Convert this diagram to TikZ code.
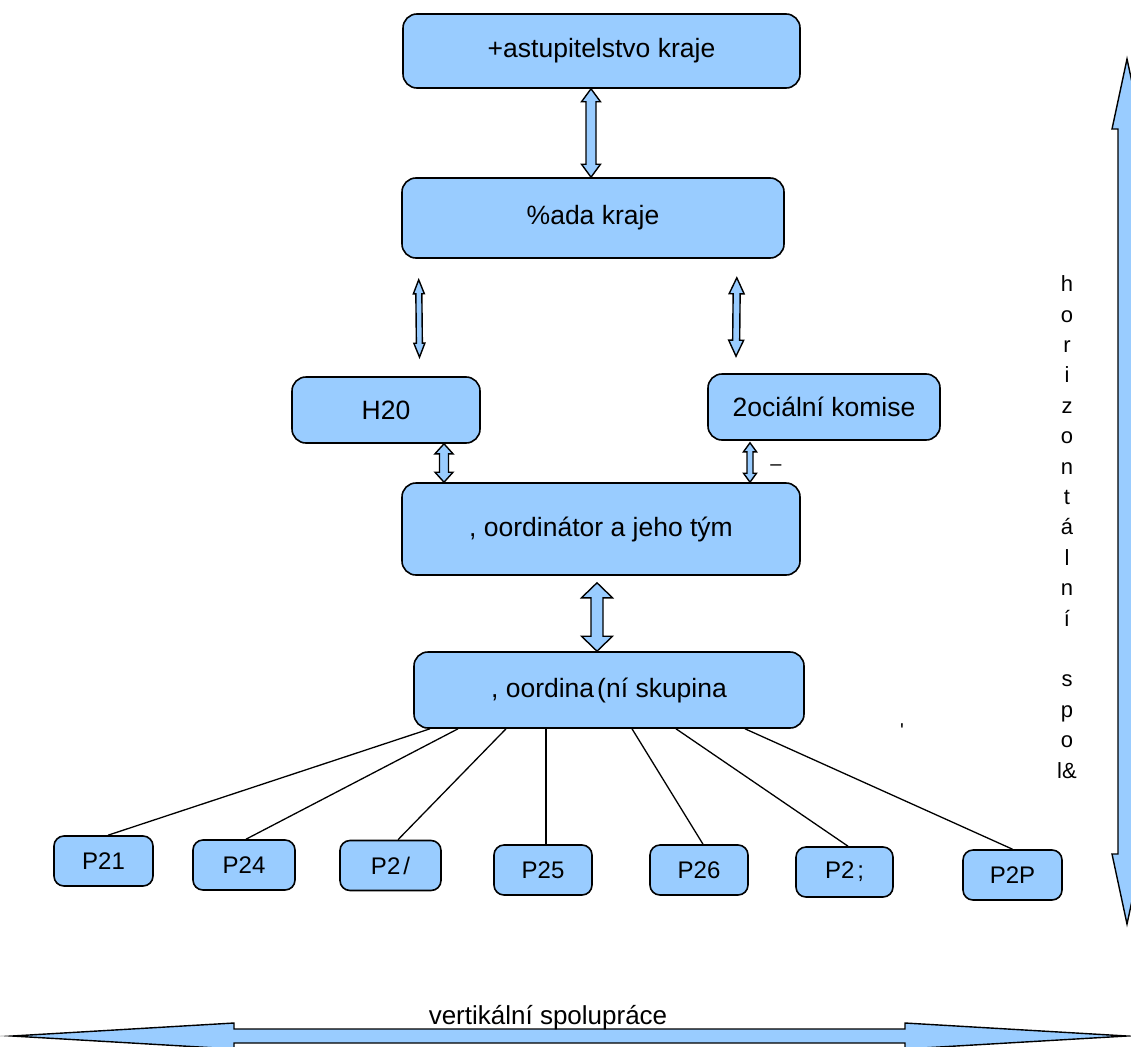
\documentclass[tikz,border=0pt]{standalone}
\usepackage{fontspec}
\setmainfont{Liberation Sans}
\usepackage{xcolor}
\usetikzlibrary{calc, positioning}

\definecolor{boxblue}{HTML}{99CCFF}

% fat double arrow: start, end, shaft half width, head half width, head length
\newcommand{\fatarrow}[6][]{%
  \draw[fatline,#1] (#2)
    -- ($(#2)!#6!(#3)!#5!90:(#3)$)
    -- ($(#2)!#6!(#3)!#4!90:(#3)$)
    -- ($(#3)!#6!(#2)!#4!-90:(#2)$)
    -- ($(#3)!#6!(#2)!#5!-90:(#2)$)
    -- (#3)
    -- ($(#3)!#6!(#2)!#5!90:(#2)$)
    -- ($(#3)!#6!(#2)!#4!90:(#2)$)
    -- ($(#2)!#6!(#3)!#4!-90:(#3)$)
    -- ($(#2)!#6!(#3)!#5!-90:(#3)$)
    -- cycle;}

\begin{document}
\begin{tikzpicture}[x=1pt, y=-1pt,
  box/.style={draw, line width=1.6pt, rounded corners=14pt, fill=boxblue, inner sep=0pt,
    font=\fontsize{26.5}{30}\selectfont},
  pbox/.style={box, rounded corners=10pt, minimum width=99pt, minimum height=50pt,
    font=\fontsize{24}{28}\selectfont},
  fatline/.style={draw, fill=boxblue, line width=1.4pt, line join=miter, miter limit=25},
  link/.style={line width=1.3pt}]
\useasboundingbox (0,0) rectangle (1131,1046);

\node[box, minimum width=397pt, minimum height=74pt] (zast) at (601.5,51) {+astupitelstvo kraje};
\node[box, minimum width=382pt, minimum height=80pt] (rada) at (593,218) {\%ada kraje};
\node[box, minimum width=188pt, minimum height=66pt] (hzo) at (386,410) {H20};
\node[box, minimum width=232pt, minimum height=66pt] (soc) at (824,407) {2ociální komise};
\node[box, minimum width=398pt, minimum height=92pt] (koord) at (601,529) {, oordinátor a jeho tým};
\node[box, minimum width=390pt, minimum height=76pt] (skup) at (609,690) {, oordina\kern3pt(ní skupina};

\node[pbox] (p1) at (103.5,861) {P21};
\node[pbox, minimum width=102pt] (p2) at (244,865) {P24};
\node[pbox, minimum width=101pt] (p3) at (390.5,865.5) {P2\kern3pt/};
\node[pbox, minimum width=98pt] (p4) at (543,870) {P25};
\node[pbox, minimum width=98pt] (p5) at (699,870) {P26};
\node[pbox, minimum width=97pt] (p6) at (844.5,872) {P2\kern3pt;};
\node[pbox] (p7) at (1012.5,875) {P2P};

% arrows between the boxes
\coordinate (a1s) at ([xshift=-10.5pt]zast.south);
\coordinate (a1e) at ([xshift=-2pt]rada.north);
\coordinate (a2s) at ([xshift=17.5pt, yshift=-21pt]rada.south west);
\coordinate (a2e) at ([xshift=33.5pt, yshift=19pt]hzo.north);
\coordinate (a3s) at ([xshift=-48pt, yshift=-19pt]rada.south east);
\coordinate (a3e) at ([xshift=-88pt, yshift=17pt]soc.north);
\coordinate (a4s) at ([xshift=58pt]hzo.south);
\coordinate (a4e) at ([xshift=-157pt]koord.north);
\coordinate (a5s) at ([xshift=-74pt, yshift=-2pt]soc.south);
\coordinate (a5e) at ([xshift=149pt]koord.north);
\coordinate (a6s) at ([xshift=-4pt, yshift=-7pt]koord.south);
\coordinate (a6e) at ([xshift=-12pt]skup.north);
\fatarrow{a1s}{a1e}{5pt}{9.5pt}{13pt}
\fatarrow{a2s}{a2e}{3pt}{5.5pt}{14pt}
\fatarrow{a3s}{a3e}{3.5pt}{7.5pt}{16pt}
\fatarrow{a4s}{a4e}{4.5pt}{9pt}{10pt}
\fatarrow{a5s}{a5e}{3pt}{6.5pt}{9pt}
\fatarrow{a6s}{a6e}{6pt}{15.5pt}{15pt}

\foreach \p/\dx/\px in {p1/-179/4.5, p2/-151/2, p3/-103/7.5, p4/-63/3, p5/23/4, p6/67/3.5, p7/136/0}
  \draw[link] ([xshift=\dx pt]skup.south) -- ([xshift=\px pt]\p.north);

\node[font=\fontsize{20}{24}\selectfont] (dash) at (776,468) {–};
\node[font=\fontsize{20}{24}\selectfont, anchor=base] (tick) at (902,737) {\textquotesingle};

% side and bottom arrows
\coordinate (htop) at (1127,59);
\coordinate (hbot) at (1127,924);
\fatarrow{htop}{hbot}{9pt}{15pt}{70pt}
\node[font=\fontsize{22}{30.4}\selectfont, align=center, inner sep=0pt] (horiz) at (1067,527)
  {h\\o\\r\\i\\z\\o\\n\\t\\á\\l\\n\\í\\\mbox{}\\s\\p\\o\\l\&};

\coordinate (vleft) at (12,1036);
\coordinate (vright) at (1127,1036);
\fatarrow{vleft}{vright}{7pt}{13pt}{222pt}
\node[font=\fontsize{26}{30}\selectfont, anchor=base] (vert) at (548,1024) {vertikální spolupráce};
\end{tikzpicture}
\end{document}
